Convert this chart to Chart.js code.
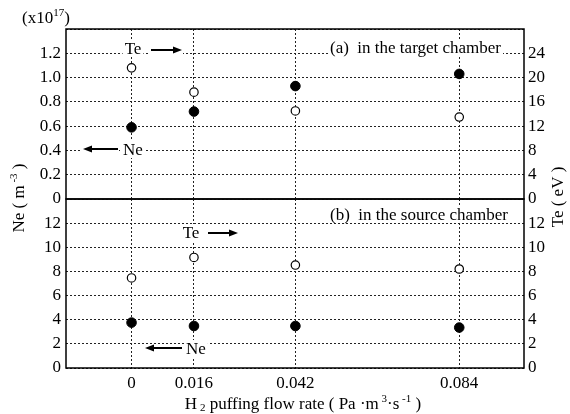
<!DOCTYPE html>
<html>
<head>
<meta charset="utf-8">
<script src="https://cdn.jsdelivr.net/npm/chart.js@4.4.0/dist/chart.umd.min.js"></script>
<style>
  html, body { margin: 0; padding: 0; background: #fff; }
  #wrap { position: relative; width: 570px; height: 414px; }
  #wrap canvas { position: absolute; left: 0; top: 0; }
</style>
</head>
<body>
<div id="wrap">
  <canvas id="topChart" width="570" height="414"></canvas>
  <canvas id="bottomChart" width="570" height="414"></canvas>
</div>
<script>
// H2 puffing flow rate (Pa m3/s)
const flowRates = [0, 0.016, 0.042, 0.084];
const flowLabels = ["0", "0.016", "0.042", "0.084"];

// (a) target chamber
const neTarget = [0.59, 0.72, 0.93, 1.03];   // x1e17 m^-3
const teTarget = [21.6, 17.6, 14.5, 13.5];   // eV

// (b) source chamber
const neSource = [3.76, 3.48, 3.48, 3.35];
const teSource = [7.46, 9.16, 8.53, 8.2];

const FONT = "'Liberation Serif', 'Times New Roman', serif";
const FS = 17;

function pts(ys) {
    return flowRates.map((x, i) => ({ x: x, y: ys[i] }));
}

/* =========================
   text helpers
========================= */
function richWidth(ctx, parts) {
    let w = 0;
    parts.forEach(p => {
        ctx.font = (p.sup || p.sub ? 11 : FS) + "px " + FONT;
        w += ctx.measureText(p.t).width;
    });
    return w;
}

function drawRich(ctx, parts, x, y) {
    // x = left, y = middle
    ctx.textBaseline = "middle";
    ctx.textAlign = "left";
    parts.forEach(p => {
        ctx.font = (p.sup || p.sub ? 11 : FS) + "px " + FONT;
        let dy = p.sup ? -6 : (p.sub ? 3 : 0);
        ctx.fillText(p.t, x, y + dy);
        x += ctx.measureText(p.t).width;
    });
}

function label(ctx, text, x, y, align) {
    ctx.font = FS + "px " + FONT;
    const w = ctx.measureText(text).width;
    const left = align === "left" ? x : x - w / 2;
    ctx.fillStyle = "#fff";
    ctx.fillRect(left - 2, y - 9, w + 4, 17);
    ctx.fillStyle = "#000";
    ctx.textAlign = "left";
    ctx.textBaseline = "middle";
    ctx.fillText(text, left, y + 1);
}

function arrow(ctx, x1, x2, y) {
    // head at x2
    const dir = x2 > x1 ? 1 : -1;
    ctx.save();
    ctx.fillStyle = "#fff";
    ctx.fillRect(Math.min(x1, x2) - 1, y - 4, Math.abs(x2 - x1) + 2, 8);
    ctx.strokeStyle = "#000";
    ctx.fillStyle = "#000";
    ctx.lineWidth = 2;
    ctx.beginPath();
    ctx.moveTo(x1, y);
    ctx.lineTo(x2 - dir * 7, y);
    ctx.stroke();
    ctx.beginPath();
    ctx.moveTo(x2, y);
    ctx.lineTo(x2 - dir * 9, y - 3.5);
    ctx.lineTo(x2 - dir * 9, y + 3.5);
    ctx.closePath();
    ctx.fill();
    ctx.restore();
}

function frame(chart) {
    const a = chart.chartArea;
    const ctx = chart.ctx;
    ctx.save();
    ctx.strokeStyle = "#000";
    ctx.lineWidth = 1.5;
    ctx.strokeRect(a.left, a.top, a.right - a.left, a.bottom - a.top);
    ctx.restore();
}

/* =========================
   shared options
========================= */
const dotted = {
    color: "#222",
    lineWidth: 1,
    drawTicks: false
};

function xScale(showTicks, height) {
    return {
        type: "linear",
        min: -0.0168,
        max: 0.1006,
        afterBuildTicks: s => { s.ticks = flowRates.map(v => ({ value: v })); },
        afterFit: s => { s.height = height; },
        border: { display: false, dash: [2, 2] },
        grid: dotted,
        ticks: {
            display: showTicks,
            padding: 5,
            color: "#000",
            font: { family: FONT, size: FS },
            callback: (v, i) => flowLabels[i]
        }
    };
}

function yScale(pos, max, step, fmt, gridOn) {
    return {
        type: "linear",
        position: pos,
        min: 0,
        max: max,
        afterFit: s => { s.width = pos === "left" ? 66 : 46; },
        border: { display: false, dash: [2, 2] },
        grid: Object.assign({ display: gridOn }, dotted),
        ticks: {
            stepSize: step,
            padding: pos === "left" ? 5 : 4,
            color: "#000",
            font: { family: FONT, size: FS },
            callback: v => (v >= max - 1e-9 ? "" : fmt(v))
        }
    };
}

function sets(ne, te, neAxis, teAxis) {
    return [
        {
            label: "Ne",
            data: pts(ne),
            yAxisID: neAxis,
            showLine: false,
            pointRadius: 4.8,
            pointBackgroundColor: "#000",
            pointBorderColor: "#000",
            pointBorderWidth: 1
        },
        {
            label: "Te",
            data: pts(te),
            yAxisID: teAxis,
            showLine: false,
            pointRadius: 4.2,
            pointBackgroundColor: "#fff",
            pointBorderColor: "#000",
            pointBorderWidth: 1.2
        }
    ];
}

function dashGrid(scale) {
    scale.options.grid.borderDash = [2, 2];
}

const base = {
    type: "scatter",
    options: {
        responsive: false,
        animation: false,
        devicePixelRatio: 1,
        plugins: { legend: { display: false }, tooltip: { enabled: false } }
    }
};

/* =========================
   (a) target chamber
========================= */
const topPlugin = {
    id: "topDeco",
    afterDraw(chart) {
        const ctx = chart.ctx;
        frame(chart);
        ctx.save();
        label(ctx, "Te", 133, 49);
        arrow(ctx, 151, 182, 50);
        label(ctx, "Ne", 133, 150);
        arrow(ctx, 118, 83, 149);
        label(ctx, "(a)  in the target chamber", 330, 48, "left");
        ctx.fillStyle = "#000";
        drawRich(ctx, [{ t: "(x10" }, { t: "17", sup: true }, { t: ")" }], 22, 19);
        ctx.restore();
    }
};

new Chart(document.getElementById("topChart"), {
    type: "scatter",
    data: { datasets: sets(neTarget, teTarget, "yNe", "yTe") },
    options: Object.assign({}, base.options, {
        layout: { padding: { top: 29, bottom: 215, left: 0, right: 0 } },
        scales: {
            x: xScale(false, 0),
            yNe: yScale("left", 1.4, 0.2, v => (v === 0 ? "0" : v.toFixed(1)), true),
            yTe: yScale("right", 28, 4, v => String(Math.round(v)), false)
        }
    }),
    plugins: [topPlugin]
});

/* =========================
   (b) source chamber
========================= */
const bottomPlugin = {
    id: "bottomDeco",
    afterDraw(chart) {
        const ctx = chart.ctx;
        frame(chart);
        ctx.save();
        label(ctx, "(b)  in the source chamber", 330, 215, "left");
        label(ctx, "Te", 191, 233);
        arrow(ctx, 208, 238, 233);
        label(ctx, "Ne", 196, 349);
        arrow(ctx, 182, 145, 348);

        ctx.fillStyle = "#000";

        // x axis title
        const xt = [
            { t: "H" }, { t: " 2", sub: true }, { t: " puffing flow rate ( Pa \u00b7m" },
            { t: " 3", sup: true }, { t: "\u00b7s" }, { t: " -1", sup: true }, { t: " )" }
        ];
        drawRich(ctx, xt, 303 - richWidth(ctx, xt) / 2, 405);

        // left title
        const lt = [{ t: "Ne ( m" }, { t: " -3", sup: true }, { t: " )" }];
        ctx.save();
        ctx.translate(20, 198);
        ctx.rotate(-Math.PI / 2);
        drawRich(ctx, lt, -richWidth(ctx, lt) / 2, 0);
        ctx.restore();

        // right title
        const rt = [{ t: "Te ( eV )" }];
        ctx.save();
        ctx.translate(559, 197);
        ctx.rotate(-Math.PI / 2);
        drawRich(ctx, rt, -richWidth(ctx, rt) / 2, 0);
        ctx.restore();

        ctx.restore();
    }
};

new Chart(document.getElementById("bottomChart"), {
    type: "scatter",
    data: { datasets: sets(neSource, teSource, "yNe", "yTe") },
    options: Object.assign({}, base.options, {
        layout: { padding: { top: 199, bottom: 0, left: 0, right: 0 } },
        scales: {
            x: xScale(true, 46),
            yNe: yScale("left", 14, 2, v => String(Math.round(v)), true),
            yTe: yScale("right", 14, 2, v => String(Math.round(v)), false)
        }
    }),
    plugins: [bottomPlugin]
});
</script>
</body>
</html>
